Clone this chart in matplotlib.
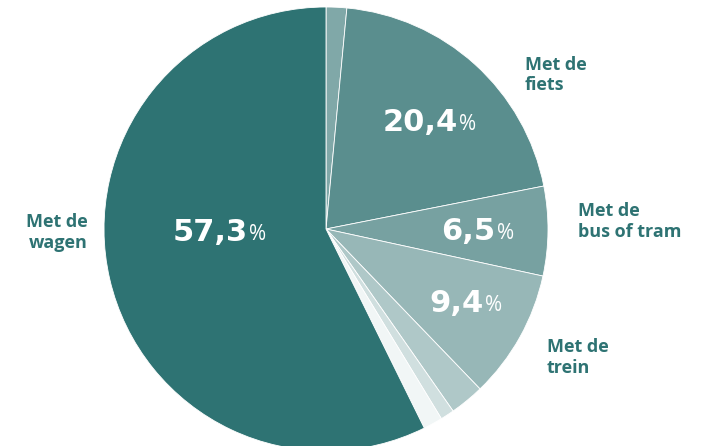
import matplotlib.pyplot as plt

# share per mode of transport (%), clockwise from the top
labels = ['Andere', 'Met de\nfiets', 'Met de\nbus of tram', 'Met de\ntrein',
          'Te voet', 'Moto', 'Combinatie', 'Met de\nwagen']
values = [1.5, 20.4, 6.5, 9.4, 2.5, 1.0, 1.4, 57.3]
colors = ['#80a8a8', '#5a8e8e', '#77a1a1', '#97b7b7',
          '#afc8c8', '#d0dfdf', '#f1f6f6', '#2e7373']
shown = ['Met de\nfiets', 'Met de\nbus of tram', 'Met de\ntrein', 'Met de\nwagen']

txt = '#2e7373'

fig = plt.figure(figsize=(7.06, 4.46), dpi=100)
# center (326, 229) px, radius 222 px
ax = fig.add_axes([(326 - 222) / 706, (446 - 229 - 222) / 446, 444 / 706, 444 / 446])
ax.pie(values, colors=colors, startangle=90, counterclock=False,
       wedgeprops=dict(edgecolor='white', linewidth=0.6))
ax.set_xlim(-1, 1)
ax.set_ylim(-1, 1)
ax.set_aspect('equal')
ax.axis('off')

# big percentages: bold number + light percent sign, split point in data coords
pct_pos = {'Met de\nwagen': (-0.354, -0.015), 'Met de\nfiets': (0.595, 0.48),
           'Met de\nbus of tram': (0.764, -0.01), 'Met de\ntrein': (0.712, -0.335)}
for lab, v in zip(labels, values):
    if lab not in pct_pos:
        continue
    x, y = pct_pos[lab]
    s = f'{v:.1f}'.replace('.', ',')
    ax.text(x, y, s, ha='right', va='center', color='white', fontsize=22,
            fontweight='bold', family='DejaVu Sans')
    ax.text(x + 0.005, y - 0.01, '%', ha='left', va='center', color='white',
            fontsize=15, family='Open Sans')

# category labels
lab_pos = {'Met de\nfiets': (0.896, 0.694, 'left'),
           'Met de\nbus of tram': (1.135, 0.032, 'left'),
           'Met de\ntrein': (0.995, -0.58, 'left'),
           'Met de\nwagen': (-1.072, -0.014, 'right')}
for lab in shown:
    x, y, ha = lab_pos[lab]
    ax.text(x, y, lab, ha=ha, va='center', multialignment=ha, color=txt,
            fontsize=13, fontweight='bold', family='Open Sans', linespacing=1.2,
            clip_on=False)

fig.savefig('out.png', dpi=100)
